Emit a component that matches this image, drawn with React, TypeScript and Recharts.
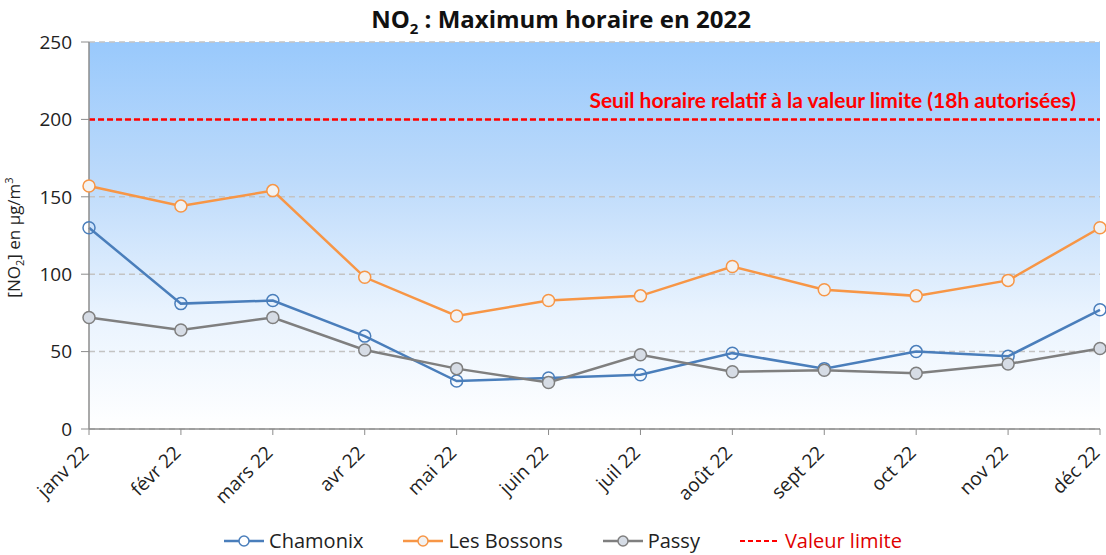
import { LineChart, Line, XAxis, YAxis, CartesianGrid, ReferenceLine } from 'recharts'

const months = ['janv 22', 'févr 22', 'mars 22', 'avr 22', 'mai 22', 'juin 22', 'juil 22', 'août 22', 'sept 22', 'oct 22', 'nov 22', 'déc 22']
const chamonix = [130, 81, 83, 60, 31, 33, 35, 49, 39, 50, 47, 77]
const bossons = [157, 144, 154, 98, 73, 83, 86, 105, 90, 86, 96, 130]
const passy = [72, 64, 72, 51, 39, 30, 48, 37, 38, 36, 42, 52]
const yTicks = [0, 50, 100, 150, 200, 250]
const LIMIT = 200

const FONT = '"Open Sans", "Noto Sans", sans-serif'

const data = months.map((m, i) => ({
  month: m,
  chamonix: chamonix[i],
  bossons: bossons[i],
  passy: passy[i],
}))

const series = [
  { key: 'chamonix', name: 'Chamonix', color: '#4a7ebb', fill: 'none' },
  { key: 'bossons', name: 'Les Bossons', color: '#f79646', fill: '#f2f2f2' },
  { key: 'passy', name: 'Passy', color: '#7f7f7f', fill: '#d6dce5' },
]

function MonthTick({ x, y, payload }: any) {
  return (
    <text
      x={0}
      y={0}
      transform={`translate(${x + 1},${y + 17}) rotate(-45)`}
      textAnchor="end"
      fontSize={19}
      fontFamily={FONT}
      fill="#222"
    >
      {payload.value}
    </text>
  )
}

function Legend() {
  const item = (color: string, fill: string | null, label: string, dashed = false) => (
    <div key={label} style={{ display: 'flex', alignItems: 'center', gap: 5 }}>
      <svg width={40} height={14}>
        <line x1={0} y1={7} x2={40} y2={7} stroke={color} strokeWidth={dashed ? 2 : 2.5} strokeDasharray={dashed ? '5 3' : undefined} />
        {fill !== null && <circle cx={20} cy={7} r={5} stroke={color} strokeWidth={1.5} fill={fill === 'none' ? '#fff' : fill} />}
      </svg>
      <span style={{ color: dashed ? '#e00000' : '#222' }}>{label}</span>
    </div>
  )
  return (
    <div
      style={{
        position: 'absolute',
        top: 527,
        left: 0,
        width: 1106,
        display: 'flex',
        justifyContent: 'center',
        gap: 40,
        paddingLeft: 20,
        boxSizing: 'border-box',
        fontFamily: FONT,
        fontSize: 20,
      }}
    >
      {series.map((s) => item(s.color, s.fill, s.name))}
      {item('#ff0000', null, 'Valeur limite', true)}
    </div>
  )
}

export default function App() {
  return (
    <div style={{ position: 'absolute', left: 0, top: 0, width: 1106, height: 555, background: '#fff' }}>
      <div
        style={{
          position: 'absolute',
          top: 2,
          left: 0,
          width: 1106,
          paddingLeft: 16,
          boxSizing: 'border-box',
          textAlign: 'center',
          fontFamily: FONT,
          fontWeight: 700,
          fontSize: 24,
          color: '#111',
        }}
      >
        NO<sub style={{ fontSize: 15 }}>2</sub> : Maximum horaire en 2022
      </div>
      <LineChart width={1106} height={555} data={data} margin={{ top: 42, right: 6, left: 30, bottom: 0 }}>
        <defs>
          <linearGradient id="bgGrad" x1="0" y1="0" x2="0" y2="1">
            <stop offset="0%" stopColor="#99c9fc" />
            <stop offset="35%" stopColor="#bcdafb" />
            <stop offset="70%" stopColor="#e9f3fe" />
            <stop offset="100%" stopColor="#ffffff" />
          </linearGradient>
        </defs>
        <CartesianGrid
          vertical={false}
          stroke="#c3c3c3"
          strokeDasharray="6 4"
          strokeWidth={1.5}
          fill="url(#bgGrad)"
          fillOpacity={1}
        />
        <XAxis
          dataKey="month"
          interval={0}
          height={126}
          tick={<MonthTick />}
          tickLine={{ stroke: '#8c8c8c' }}
          axisLine={{ stroke: '#8c8c8c', strokeWidth: 1.5 }}
          tickSize={6}
        />
        <YAxis
          domain={[0, 250]}
          ticks={yTicks}
          width={59}
          tickSize={8}
          tickMargin={9}
          tick={{ fontSize: 19, fill: '#222', fontFamily: FONT }}
          tickLine={{ stroke: '#8c8c8c' }}
          axisLine={{ stroke: '#8c8c8c', strokeWidth: 1.5 }}
          label={({ viewBox }: any) => (
            <text
              transform={`translate(${viewBox.x - 10},${viewBox.y + viewBox.height / 2 + 2}) rotate(-90)`}
              textAnchor="middle"
              fontSize={17}
              fontFamily={FONT}
              fill="#222"
            >
              [NO<tspan fontSize={11} dy={4}>2</tspan>
              <tspan dy={-4}>] en µg/m</tspan>
              <tspan fontSize={11} dy={-7}>3</tspan>
            </text>
          )}
        />
        <ReferenceLine
          y={LIMIT}
          stroke="#ff0000"
          strokeWidth={2.5}
          strokeDasharray="6 3"
          label={{
            value: 'Seuil horaire relatif à la valeur limite (18h autorisées)',
            position: 'insideTopRight',
            offset: 0,
            dy: -26,
            dx: -24,
            fill: '#ff0000',
            fontSize: 21,
            fontWeight: 700,
            fontFamily: 'Lato, "Open Sans", sans-serif',
          }}
        />
        {series.map((s) => (
          <Line
            key={s.key}
            dataKey={s.key}
            name={s.name}
            type="linear"
            stroke={s.color}
            strokeWidth={2.5}
            dot={{ r: 6, stroke: s.color, strokeWidth: 1.5, fill: s.fill }}
            activeDot={false}
            isAnimationActive={false}
          />
        ))}
      </LineChart>
      <Legend />
    </div>
  )
}
